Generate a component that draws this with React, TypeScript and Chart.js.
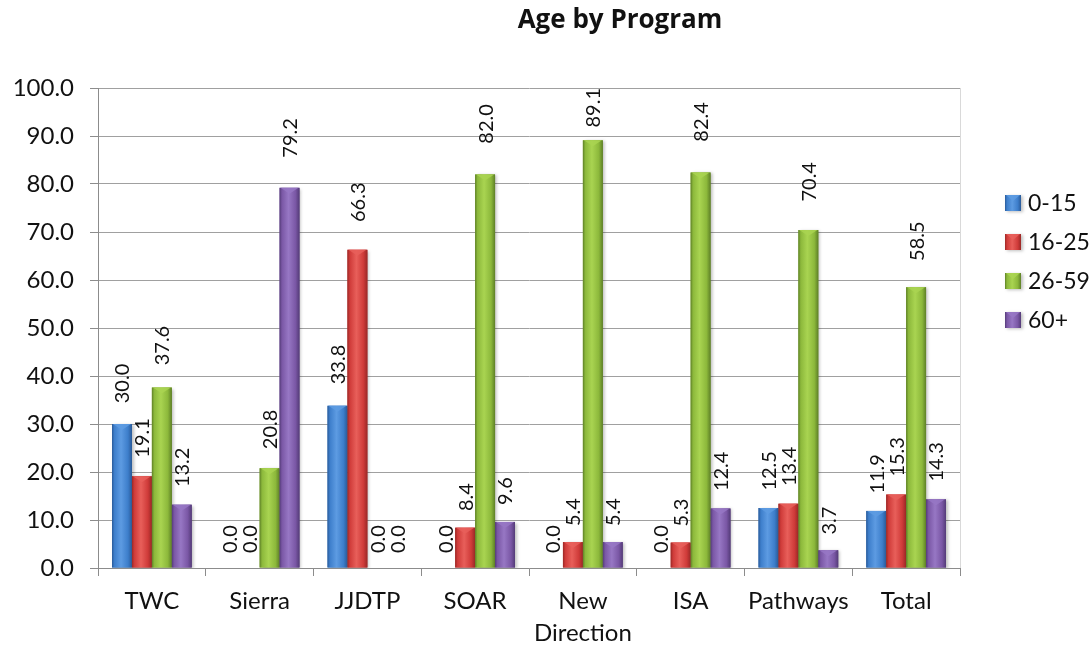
import React, { useEffect, useRef } from "react";
import { Chart, registerables } from "chart.js";

Chart.register(...registerables);

const chartTitle = "Age by Program";
const categories: (string | string[])[] = ["TWC", "Sierra", "JJDTP", "SOAR", ["New", "Direction"], "ISA", "Pathways", "Total"];
const seriesNames = ["0-15", "16-25", "26-59", "60+"];
const age0to15 = [30.0, 0.0, 33.8, 0.0, 0.0, 0.0, 12.5, 11.9];
const age16to25 = [19.1, 0.0, 66.3, 8.4, 5.4, 5.3, 13.4, 15.3];
const age26to59 = [37.6, 20.8, 0.0, 82.0, 89.1, 82.4, 70.4, 58.5];
const age60plus = [13.2, 79.2, 0.0, 9.6, 5.4, 12.4, 3.7, 14.3];
const seriesValues = [age0to15, age16to25, age26to59, age60plus];
const yMin = 0;
const yMax = 100;
const yStep = 10;

const palette = [
  { base: "#3d7ecb", dark: "#2a5a98", light: "#5d9be2" },
  { base: "#cf3b39", dark: "#9a2826", light: "#e85f5a" },
  { base: "#8cb83b", dark: "#5e8027", light: "#a9d451" },
  { base: "#7a57a5", dark: "#543b78", light: "#9777c4" },
];

const FONT = "Lato, 'Open Sans', 'DejaVu Sans', sans-serif";

function paintBevel(ctx: CanvasRenderingContext2D, left: number, top: number, right: number, bottom: number, c: { base: string; dark: string; light: string }) {
  const w = right - left;
  const h = bottom - top;
  if (h < 0.5) return;
  const g = ctx.createLinearGradient(left, 0, right, 0);
  g.addColorStop(0, c.dark);
  g.addColorStop(0.12, c.base);
  g.addColorStop(0.45, c.light);
  g.addColorStop(0.8, c.base);
  g.addColorStop(1, c.dark);
  ctx.save();
  ctx.shadowColor = "rgba(0,0,0,0.25)";
  ctx.shadowOffsetX = 2;
  ctx.shadowOffsetY = 1;
  ctx.shadowBlur = 3;
  ctx.fillStyle = g;
  ctx.fillRect(left, top, w, h);
  ctx.restore();
  const th = Math.min(6, h);
  ctx.save();
  ctx.beginPath();
  ctx.moveTo(left + 1, top);
  ctx.lineTo(right - 1, top);
  ctx.lineTo((left + right) / 2, top + th);
  ctx.closePath();
  ctx.globalAlpha = 0.85;
  ctx.fillStyle = c.light;
  ctx.fill();
  ctx.restore();
}

const bevelPlugin = {
  id: "bevelBars",
  afterDatasetsDraw(chart: any) {
    const ctx = chart.ctx as CanvasRenderingContext2D;
    const area = chart.chartArea;
    const yScale = chart.scales.y;
    ctx.save();
    ctx.beginPath();
    ctx.rect(area.left, area.top - 2, area.right - area.left, area.bottom - area.top + 2);
    ctx.clip();
    chart.data.datasets.forEach((ds: any, di: number) => {
      const meta = chart.getDatasetMeta(di);
      meta.data.forEach((el: any) => {
        const p = el.getProps(["x", "y", "base", "width"], true);
        const left = p.x - p.width / 2;
        const right = p.x + p.width / 2;
        const top = Math.min(p.y, p.base);
        const bottom = Math.max(p.y, p.base);
        paintBevel(ctx, left, top, right, bottom, palette[di]);
      });
    });
    ctx.restore();

    // value labels (rotated, reading bottom to top)
    ctx.save();
    ctx.fillStyle = "#111";
    ctx.font = `20px ${FONT}`;
    ctx.textAlign = "left";
    ctx.textBaseline = "middle";
    chart.data.datasets.forEach((ds: any, di: number) => {
      const meta = chart.getDatasetMeta(di);
      meta.data.forEach((el: any, i: number) => {
        const p = el.getProps(["x"], true);
        const v = Number(ds.data[i]);
        const txt = v.toFixed(1);
        const tw = ctx.measureText(txt).width;
        let start = yScale.getPixelForValue(v * 1.04) - 15;
        if (start - tw < area.top) start = area.top + tw;
        ctx.save();
        ctx.translate(p.x + 1, start);
        ctx.rotate(-Math.PI / 2);
        ctx.fillText(txt, 0, 0);
        ctx.restore();
      });
    });
    ctx.restore();
  },
  afterDraw(chart: any) {
    const ctx = chart.ctx as CanvasRenderingContext2D;
    const a = chart.chartArea;
    // right border of plot area
    ctx.save();
    ctx.strokeStyle = "#d9d9d9";
    ctx.lineWidth = 1;
    ctx.beginPath();
    ctx.moveTo(a.right + 0.5, a.top);
    ctx.lineTo(a.right + 0.5, a.bottom);
    ctx.stroke();
    ctx.restore();

    // title
    ctx.save();
    ctx.fillStyle = "#111";
    ctx.font = `bold 26px 'Open Sans', ${FONT}`;
    ctx.textAlign = "center";
    ctx.textBaseline = "middle";
    ctx.fillText(chartTitle, 620, 21);
    ctx.restore();

    // legend
    ctx.save();
    ctx.font = `23px ${FONT}`;
    ctx.textAlign = "left";
    ctx.textBaseline = "middle";
    chart.data.datasets.forEach((ds: any, di: number) => {
      const cy = 203 + di * 39;
      const bx = 1005;
      const size = 16;
      paintBevel(ctx, bx, cy - size / 2, bx + size, cy + size / 2, palette[di]);
      ctx.fillStyle = "#111";
      ctx.fillText(ds.label, 1028, cy + 1);
    });
    ctx.restore();
  },
};

export default function App() {
  const ref = useRef<HTMLCanvasElement | null>(null);
  useEffect(() => {
    document.body.style.margin = "0";
    if (!ref.current) return;
    const chart = new Chart(ref.current, {
      type: "bar",
      data: {
        labels: categories as any,
        datasets: seriesValues.map((vals, i) => ({
          label: seriesNames[i],
          data: vals,
          backgroundColor: palette[i].base,
          borderWidth: 0,
          categoryPercentage: 0.74,
          barPercentage: 1.0,
        })),
      },
      options: {
        responsive: false,
        animation: false,
        layout: { padding: { top: 88, right: 132, bottom: 0, left: 0 } },
        plugins: {
          legend: { display: false },
          title: { display: false },
          tooltip: { enabled: false },
        },
        scales: {
          x: {
            offset: true,
            grid: {
              offset: true,
              drawOnChartArea: false,
              drawTicks: true,
              tickLength: 8,
              tickColor: "#8c8c8c",
              color: "#8c8c8c",
            },
            border: { color: "#8c8c8c", width: 1 },
            ticks: {
              color: "#111",
              font: { family: FONT, size: 24, lineHeight: 1.3 },
              padding: 10,
              maxRotation: 0,
              autoSkip: false,
            },
            afterFit(scale: any) {
              scale.height = 78;
            },
          },
          y: {
            min: yMin,
            max: yMax,
            grid: {
              color: "#a0a0a0",
              lineWidth: 1,
              drawTicks: true,
              tickLength: 8,
              tickColor: "#8c8c8c",
            },
            border: { color: "#8c8c8c", width: 1 },
            ticks: {
              stepSize: yStep,
              color: "#111",
              padding: 16,
              font: { family: FONT, size: 24 },
              callback: (v: any) => Number(v).toFixed(1),
            },
            afterFit(scale: any) {
              scale.width = 98;
            },
          },
        },
      },
      plugins: [bevelPlugin],
    });
    return () => chart.destroy();
  }, []);
  return (
    <div style={{ position: "absolute", left: 0, top: 0, width: 1092, height: 646, background: "#fff" }}>
      <canvas ref={ref} width={1092} height={646} />
    </div>
  );
}
